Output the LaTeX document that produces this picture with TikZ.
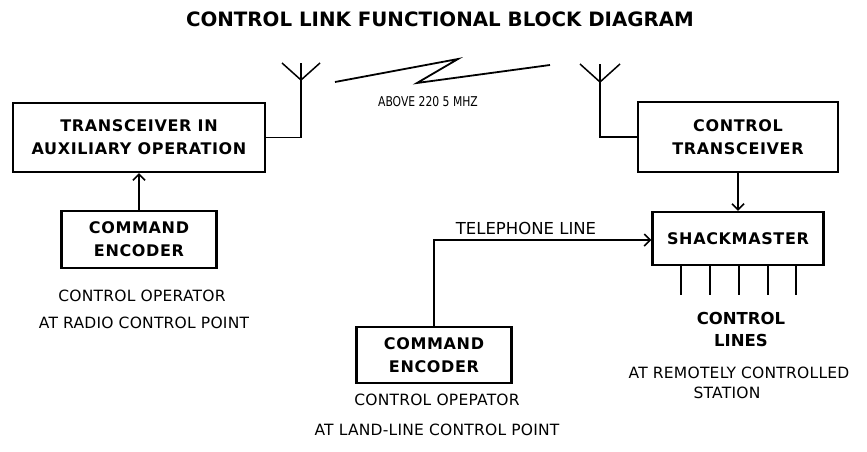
\documentclass[tikz,border=0pt]{standalone}
\usepackage{fontspec}
\setmainfont{DejaVu Sans}
\newfontfamily\boxfont[LetterSpace=4]{DejaVu Sans}
\newfontfamily\condfont[FakeStretch=0.8]{DejaVu Sans}
\newfontfamily\lblfont[LetterSpace=1.5]{DejaVu Sans}
\usetikzlibrary{arrows.meta}
\tikzset{
  blk/.style={draw, line width=2.4pt, inner sep=0pt, align=center,
    font=\boxfont\bfseries\fontsize{16}{23}\selectfont},
  wire/.style={line width=1.5pt},
  arr/.style={wire, -{Straight Barb[length=6pt,width=12pt,line width=1.5pt]}},
  lbl/.style={inner sep=0pt, font=\lblfont\fontsize{15.5}{20}\selectfont},
  blbl/.style={inner sep=0pt, font=\bfseries\fontsize{16.5}{22}\selectfont},
}
\begin{document}
\begin{tikzpicture}[x=1pt,y=-1pt]
\useasboundingbox (0,0) rectangle (867,452);
% title
\node[inner sep=0pt, font=\bfseries\fontsize{19.8}{22}\selectfont] (title) at (440,19) {CONTROL LINK FUNCTIONAL BLOCK DIAGRAM};
% boxes
\node[blk, minimum width=252pt, minimum height=69pt] (trx) at (139,137.5) {TRANSCEIVER IN\\AUXILIARY OPERATION};
\node[blk, minimum width=155pt, minimum height=57pt] (enc1) at (139,239.5) {COMMAND\\ENCODER};
\node[blk, minimum width=200pt, minimum height=70pt] (ctrx) at (738,137) {CONTROL\\TRANSCEIVER};
\node[blk, minimum width=171pt, minimum height=53pt] (shack) at (738,238.5) {SHACKMASTER};
\node[blk, minimum width=155pt, minimum height=56pt] (enc2) at (434,355) {COMMAND\\ENCODER};
% antennas
\coordinate (ant1) at (301,63);
\coordinate (ant1v) at (301,80);
\coordinate (ant1l) at (282,63);
\coordinate (ant1r) at (320,63);
\coordinate (ant2) at (600,64);
\coordinate (ant2v) at (600,82);
\coordinate (ant2l) at (580,64);
\coordinate (ant2r) at (620,64);
\draw[wire] (trx.east) -| (ant1);
\draw[wire] (ant1l) -- (ant1v) -- (ant1r);
\draw[wire] (ctrx.west) -| (ant2);
\draw[wire] (ant2l) -- (ant2v) -- (ant2r);
% radio link zigzag
\coordinate (z1) at (335,82);
\coordinate (z2) at (458,59);
\coordinate (z3) at (417,83);
\coordinate (z4) at (550,65);
\draw[line width=1.8pt, line join=miter] (z1) -- (z2) -- (z3) -- (z4);
\node[inner sep=0pt, font=\condfont\fontsize{13.5}{14}\selectfont] (freq) at (428,102) {ABOVE 220 5 MHZ};
% connectors
\draw[arr] (enc1.north) -- (trx.south);
\draw[arr] (ctrx.south) -- (shack.north);
\coordinate (tel) at (434,240);
\draw[arr] (enc2.north) -- (tel) -- (shack.west |- tel);
\node[inner sep=0pt, font=\fontsize{16.5}{20}\selectfont] (tellbl) at (526,228) {TELEPHONE LINE};
% control lines
\foreach \i/\x in {1/681,2/710,3/739,4/768,5/796}{
  \coordinate (cl\i) at (\x,295);
  \draw[wire] (cl\i |- shack.south) -- (cl\i);
}
% labels
\node[lbl] (op1a) at (142,296) {CONTROL OPERATOR};
\node[lbl] (op1b) at (144,323) {AT RADIO CONTROL POINT};
\node[blbl] (cla) at (741,318) {CONTROL};
\node[blbl] (clb) at (741,340) {LINES};
\node[lbl] (sta) at (739,373) {AT REMOTELY CONTROLLED};
\node[lbl] (stb) at (727,393) {STATION};
\node[lbl] (op2a) at (437,400) {CONTROL OPEPATOR};
\node[lbl] (op2b) at (437,430) {AT LAND-LINE CONTROL POINT};
\end{tikzpicture}
\end{document}
